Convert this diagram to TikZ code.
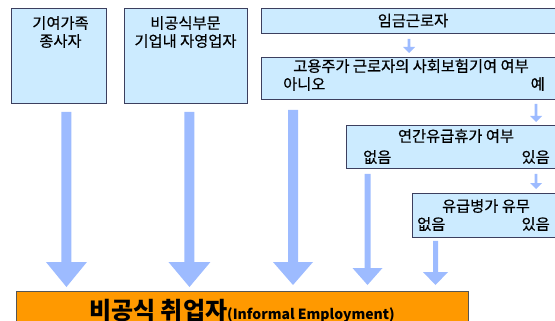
\documentclass[tikz,border=0pt]{standalone}
\usepackage{fontspec}
\setmainfont{Noto Sans CJK KR}
\newfontfamily\boxfont{Noto Sans CJK KR}[FakeBold=0.5]
\usetikzlibrary{calc}
\definecolor{boxfill}{HTML}{CCEBFF}
\definecolor{boxline}{HTML}{3C3F5E}
\definecolor{arrowc}{HTML}{9DBBFF}
\definecolor{orangefill}{HTML}{FF9900}
\definecolor{orangeline}{HTML}{555555}
% #1 start, #2 tip, #3 half shaft, #4 half head, #5 head length
\newcommand\blockarrow[5]{%
  \fill[arrowc] let \p1=(#1), \p2=(#2) in
    (\x1-#3,\y1) -- (\x1+#3,\y1) -- (\x1+#3,\y2+#5) -- (\x1+#4,\y2+#5)
    -- (\x1,\y2) -- (\x1-#4,\y2+#5) -- (\x1-#3,\y2+#5) -- cycle;}
\begin{document}
\begin{tikzpicture}[x=1pt,y=-1pt,
  box/.style={draw=boxline, fill=boxfill, line width=0.9pt, inner sep=0pt, anchor=north west},
  txt/.style={inner sep=0pt, font=\boxfont\fontsize{15.3}{18}\selectfont, align=center},
  outbox/.style={draw=orangeline, fill=orangefill, line width=0.9pt, inner sep=0pt, anchor=north west}]
\useasboundingbox (0,0) rectangle (555,321);
\begin{scope}
\clip (0,0) rectangle (555,321);
% boxes
\node[box, minimum width=95, minimum height=95] (b1) at (11,8) {};
\node[box, minimum width=123, minimum height=95] (b2) at (124,8) {};
\node[box, minimum width=304, minimum height=25] (b3) at (261,8) {};
\node[box, minimum width=304, minimum height=42] (b4) at (261,57) {};
\node[box, minimum width=219, minimum height=43] (b5) at (346,125) {};
\node[box, minimum width=153, minimum height=44] (b6) at (412,193) {};
\node[outbox, minimum width=452, minimum height=45] (out) at (16,291) {};
% texts
\node[txt] (t1) at (60.5,32) {기여가족\\종사자};
\node[txt] (t2) at (185.5,32) {비공식부문\\기업내 자영업자};
\node[txt] (t3) at (413,20.5) {임금근로자};
\node[txt] (t4) at (411,66) {고용주가 근로자의 사회보험기여 여부};
\node[txt, anchor=west] (t4a) at (283,84) {아니오};
\node[txt, anchor=east] (t4b) at (545,84) {예};
\node[txt] (t5) at (456,136) {연간유급휴가 여부};
\node[txt, anchor=west] (t5a) at (363,157) {없음};
\node[txt, anchor=east] (t5b) at (550,157) {있음};
\node[txt] (t6) at (486,206) {유급병가 유무};
\node[txt, anchor=west] (t6a) at (417,224) {없음};
\node[txt, anchor=east] (t6b) at (550,224) {있음};
\node[inner sep=0pt, anchor=base, font=\bfseries] (tout) at (242,319)
  {{\fontsize{24}{26}\selectfont 비공식 취업자}{\fontsize{14}{16}\selectfont (Informal Employment)}};
% small arrows
\blockarrow{$(b3.south west)+(148,5)$}{$(b4.north west)+(148,-4)$}{1.3pt}{6pt}{6pt}
\blockarrow{$(b4.south west)+(275,4)$}{$(b5.north west)+(190,-3)$}{1.3pt}{6pt}{6pt}
\blockarrow{$(b5.south west)+(190,5)$}{$(b6.north west)+(124,-4)$}{1.3pt}{6pt}{6pt}
% big arrows
\blockarrow{$(b1.south)+(7.5,8)$}{$(b1.south |- out.north)+(7.5,-4)$}{5pt}{20.5pt}{25pt}
\blockarrow{$(b2.south)+(3.5,8)$}{$(b2.south |- out.north)+(3.5,-4)$}{5pt}{21pt}{25pt}
\blockarrow{$(b4.south west)+(32,10)$}{$(b4.south west |- out.north)+(32,-6)$}{5pt}{20pt}{23pt}
\blockarrow{$(b5.south west)+(21.5,5)$}{$(b5.south west |- out.north)+(21.5,-6)$}{3pt}{15pt}{17pt}
\blockarrow{$(b6.south west)+(23.5,3)$}{$(b6.south west |- out.north)+(23.5,-6)$}{2.5pt}{12.5pt}{13pt}
\end{scope}
\end{tikzpicture}
\end{document}
